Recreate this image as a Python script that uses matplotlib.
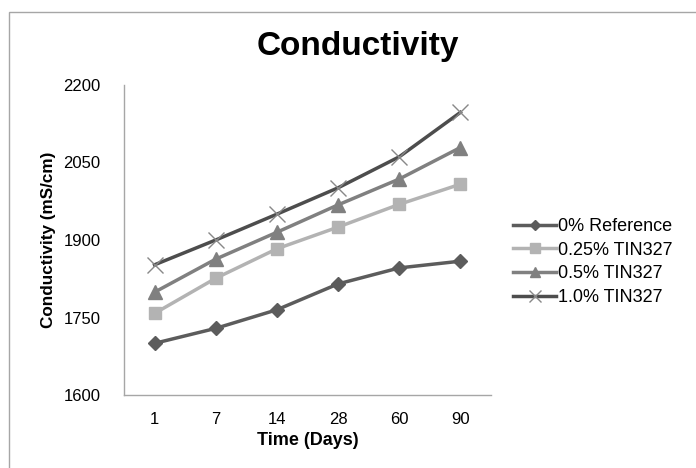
import matplotlib
matplotlib.use("Agg")
import matplotlib.pyplot as plt
from matplotlib.patches import Rectangle

plt.rcParams['font.family'] = ['Liberation Sans', 'DejaVu Sans']

days = ["1", "7", "14", "28", "60", "90"]
ref_0 = [1700, 1729, 1765, 1815, 1846, 1859]
tin_025 = [1758, 1826, 1883, 1925, 1969, 2008]
tin_05 = [1799, 1863, 1915, 1968, 2018, 2079]
tin_10 = [1852, 1900, 1950, 2001, 2061, 2147]
series_names = ["0% Reference", "0.25% TIN327", "0.5% TIN327", "1.0% TIN327"]
yticks = [1600, 1750, 1900, 2050, 2200]

fig = plt.figure(figsize=(6.96, 4.68), dpi=100)
fig.patches.append(Rectangle((9/696, -0.1), 1.2, 1 - 12/468 + 0.1, transform=fig.transFigure,
                             fill=False, edgecolor='#a6a6a6', linewidth=1.0))
ax = fig.add_axes([124/696, 1 - 395/468, (491-124)/696, (395-85)/468])

x = list(range(len(days)))
styles = [
    dict(color='#5c5c5c', marker='D', markersize=7, mfc='#5c5c5c', mec='#5c5c5c'),
    dict(color='#b3b3b3', marker='s', markersize=9, mfc='#b3b3b3', mec='#b3b3b3'),
    dict(color='#808080', marker='^', markersize=10, mfc='#808080', mec='#808080'),
    dict(color='#4d4d4d', marker='x', markersize=11, mfc='#888888', mec='#888888', mew=1.0),
]
data = [ref_0, tin_025, tin_05, tin_10]
for vals, name, st in zip(data, series_names, styles):
    ax.plot(x, vals, linewidth=2.5, label=name, **st)

ax.set_xlim(-0.5, len(days) - 0.5)
ax.set_ylim(1600, 2200)
ax.set_yticks(yticks)
ax.set_xticks(x)
ax.set_xticklabels(days)
ax.tick_params(length=0, labelsize=12, colors='black')
ax.tick_params(axis='x', pad=12)
ax.tick_params(axis='y', pad=17)
for s in ['top', 'right']:
    ax.spines[s].set_visible(False)
for s in ['left', 'bottom']:
    ax.spines[s].set_color('#a6a6a6')
    ax.spines[s].set_linewidth(1.0)

ax.set_xlabel("Time (Days)", fontsize=13, fontweight='bold', labelpad=4)
ax.set_ylabel("Conductivity (mS/cm)", fontsize=12.3, fontweight='bold', labelpad=5)
fig.text(358/696, 1 - 46/468, "Conductivity", ha='center', va='center', fontsize=24, fontweight='bold')

leg = ax.legend(loc='upper left', bbox_to_anchor=(513/696, 1 - 218/468), bbox_transform=fig.transFigure,
                frameon=False, fontsize=13, handlelength=2.4, handletextpad=0.1, labelspacing=0.37,
                borderpad=0, borderaxespad=0, markerscale=0.75)

fig.savefig("out.png", dpi=100)
